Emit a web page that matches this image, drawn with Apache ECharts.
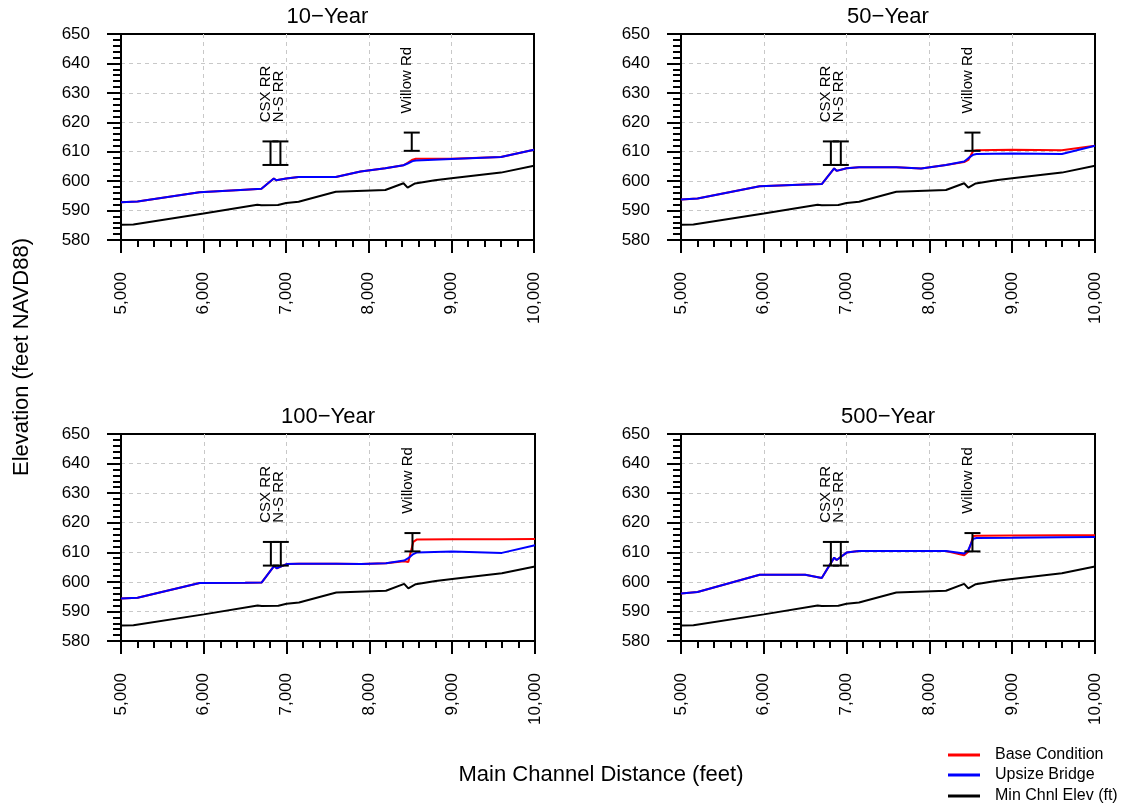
<!DOCTYPE html>
<html>
<head>
<meta charset="utf-8">
<title>Water surface profiles</title>
<script src="https://cdn.jsdelivr.net/npm/echarts@6/dist/echarts.min.js"></script>
<style>
  html, body { margin: 0; padding: 0; background: #fff; }
  #chart { width: 1127px; height: 808px; }
</style>
</head>
<body>
<div id="chart"></div>
<script>
'use strict';

// panel titles and x tick values
const events = ['10−Year', '50−Year', '100−Year', '500−Year'];
const xTicks = [5000, 6000, 7000, 8000, 9000, 10000];
const legendNames = ['Base Condition', 'Upsize Bridge', 'Min Chnl Elev (ft)'];

// water surface stations (ft)
const wseX = [5000, 5200, 5950, 6500, 6700, 6850, 6880, 7000, 7150, 7600, 7900, 8200, 8420, 8470, 8530, 8570, 9000, 9600, 10000];

// Upsize Bridge water surface per event
const upsize10  = [592.8, 593.1, 596.2, 597.1, 597.4, 600.9, 600.3, 600.9, 601.4, 601.4, 603.3, 604.4, 605.4, 606.0, 606.8, 607.0, 607.5, 608.2, 610.7];
const upsize50  = [593.8, 594.1, 598.3, 598.9, 599.0, 604.3, 603.5, 604.4, 604.7, 604.7, 604.3, 605.5, 606.7, 607.8, 609.0, 609.2, 609.4, 609.2, 612.0];
const upsize100 = [594.4, 594.6, 599.6, 599.7, 599.8, 605.4, 604.6, 606.0, 606.1, 606.1, 606.0, 606.3, 607.2, 608.0, 609.4, 609.9, 610.3, 609.8, 612.4];
const upsize500 = [596.1, 596.6, 602.4, 602.4, 601.3, 608.2, 607.4, 609.9, 610.4, 610.4, 610.4, 610.4, 609.6, 610.8, 614.6, 614.8, 614.9, 615.1, 615.2];

// Base Condition water surface per event
const base10  = [592.8, 593.1, 596.2, 597.1, 597.4, 600.9, 600.3, 600.9, 601.4, 601.4, 603.3, 604.4, 605.4, 606.2, 607.3, 607.6, 607.6, 608.2, 610.7];
const base50  = [593.8, 594.1, 598.3, 598.9, 599.0, 604.3, 603.5, 604.4, 604.7, 604.7, 604.3, 605.5, 606.5, 607.2, 610.3, 610.5, 610.7, 610.5, 612.0];
const base100 = [594.4, 594.6, 599.6, 599.7, 599.8, 605.4, 604.6, 606.0, 606.1, 606.1, 606.0, 606.3, 607.0, 606.7, 613.5, 614.3, 614.4, 614.4, 614.5];
const base500 = [596.1, 596.6, 602.4, 602.4, 601.3, 608.2, 607.4, 609.9, 610.4, 610.4, 610.4, 610.4, 609.0, 610.2, 615.5, 615.6, 615.7, 615.8, 615.8];

// Min channel elevation
const chnlX = [5000, 5150, 6000, 6650, 6700, 6900, 7000, 7150, 7600, 8200, 8420, 8470, 8560, 8800, 9000, 9600, 10000];
const chnlY = [585.2, 585.3, 589.0, 592.0, 591.8, 591.9, 592.6, 593.0, 596.4, 597.0, 599.3, 597.8, 599.2, 600.3, 601.0, 602.9, 605.2];

// bridges: station, low chord, high chord, station the label is written at
const bridgeNames = ['CSX RR', 'N-S RR', 'Willow Rd'];
const bridgeX = [6810, 6930, 8520];
const bridgeLow = [605.5, 605.5, 610.3];
const bridgeHigh = [613.5, 613.5, 616.5];
const bridgeLabelX = [6750, 6910, 8462];

const upsizeAll = [upsize10, upsize50, upsize100, upsize500];
const baseAll = [base10, base50, base100, base500];
const lineColors = ['#ff0000', '#0000ff', '#000000'];

const FONT = '"Liberation Sans", Arial, sans-serif';
const pairs = (xs, ys) => xs.map((x, i) => [x, ys[i]]);

const chart = echarts.init(document.getElementById('chart'));

const gridPos = [
  { left: 121, top: 34, width: 413, height: 206 },
  { left: 681, top: 34, width: 414, height: 206 },
  { left: 121, top: 434, width: 414, height: 207 },
  { left: 681, top: 434, width: 414, height: 207 }
];

function renderBridge(params, api) {
  const x = api.value(0);
  const lo = api.coord([x, api.value(1)]);
  const hi = api.coord([x, api.value(2)]);
  const lbl = api.coord([api.value(3), api.value(2) + 6.5]);
  const w = 8;
  const ls = { stroke: '#000', lineWidth: 2 };
  return {
    type: 'group',
    children: [
      { type: 'line', shape: { x1: lo[0], y1: lo[1], x2: hi[0], y2: hi[1] }, style: ls },
      { type: 'line', shape: { x1: lo[0] - w, y1: lo[1], x2: lo[0] + w, y2: lo[1] }, style: ls },
      { type: 'line', shape: { x1: hi[0] - w, y1: hi[1], x2: hi[0] + w, y2: hi[1] }, style: ls },
      {
        type: 'text', x: lbl[0], y: lbl[1], rotation: Math.PI / 2,
        style: {
          text: bridgeNames[params.dataIndex], fill: '#000', font: '15px ' + FONT,
          textAlign: 'left', textVerticalAlign: 'middle', align: 'left', verticalAlign: 'middle'
        }
      }
    ]
  };
}

const grids = [], xAxes = [], yAxes = [], series = [], graphics = [];
const dashed = { color: '#c8c8c8', type: [4, 4], width: 1 };

events.forEach(function (ev, i) {
  const g = gridPos[i];
  grids.push(Object.assign({ show: true, borderColor: '#000', borderWidth: 2, containLabel: false }, g));

  xAxes.push({
    type: 'value', gridIndex: i, min: xTicks[0], max: xTicks[xTicks.length - 1], interval: 1000,
    axisLine: { show: true, onZero: false, lineStyle: { color: '#000', width: 2 } },
    axisTick: { show: true, length: 13, lineStyle: { color: '#000', width: 2 } },
    minorTick: { show: true, splitNumber: 5, length: 7, lineStyle: { color: '#000', width: 2 } },
    splitLine: { show: true, showMinLine: false, showMaxLine: false, lineStyle: dashed },
    axisLabel: {
      rotate: 90, margin: 32, color: '#000', fontSize: 17, fontFamily: FONT,
      formatter: v => v.toLocaleString('en-US')
    }
  });

  yAxes.push({
    type: 'value', gridIndex: i, min: 580, max: 650, interval: 10,
    axisLine: { show: true, onZero: false, lineStyle: { color: '#000', width: 2 } },
    axisTick: { show: true, length: 14, lineStyle: { color: '#000', width: 2 } },
    minorTick: { show: true, splitNumber: 5, length: 8, lineStyle: { color: '#000', width: 2 } },
    splitLine: { show: true, showMinLine: false, showMaxLine: false, lineStyle: dashed },
    axisLabel: { margin: 31, color: '#000', fontSize: 17, fontFamily: FONT }
  });

  const lineData = [pairs(wseX, baseAll[i]), pairs(wseX, upsizeAll[i]), pairs(chnlX, chnlY)];
  legendNames.forEach(function (name, k) {
    series.push({
      name: name, type: 'line', xAxisIndex: i, yAxisIndex: i,
      data: lineData[k], showSymbol: false, symbol: 'none',
      lineStyle: { color: lineColors[k], width: 2 }, itemStyle: { color: lineColors[k] }
    });
  });
  series.push({
    type: 'custom', xAxisIndex: i, yAxisIndex: i, renderItem: renderBridge,
    data: bridgeX.map((x, k) => [x, bridgeLow[k], bridgeHigh[k], bridgeLabelX[k]]),
    encode: { x: 0, y: [1, 2] }, clip: false, z: 5
  });

  graphics.push({
    type: 'text', x: g.left + g.width / 2, y: g.top - 28,
    style: { text: ev, fill: '#000', font: '22px ' + FONT, textAlign: 'center', align: 'center' }
  });
});

graphics.push({
  type: 'text', x: 22, y: 357, rotation: Math.PI / 2,
  style: {
    text: 'Elevation (feet NAVD88)', fill: '#000', font: '22px ' + FONT,
    textAlign: 'center', textVerticalAlign: 'middle', align: 'center', verticalAlign: 'middle'
  }
});
graphics.push({
  type: 'text', x: 601, y: 775,
  style: {
    text: 'Main Channel Distance (feet)', fill: '#000', font: '22px ' + FONT,
    textAlign: 'center', textVerticalAlign: 'middle', align: 'center', verticalAlign: 'middle'
  }
});

const legendTops = [747, 767, 788];
const legends = legendNames.map((name, k) => ({
  data: [name], left: 948, top: legendTops[k], padding: 0,
  icon: 'rect', itemWidth: 32, itemHeight: 3,
  textStyle: { color: '#000', fontSize: 16, fontFamily: FONT, padding: [0, 0, 0, 10] }
}));

const option = {
  animation: false,
  backgroundColor: '#fff',
  grid: grids,
  xAxis: xAxes,
  yAxis: yAxes,
  series: series,
  graphic: graphics,
  legend: legends
};

chart.setOption(option);
</script>
</body>
</html>
